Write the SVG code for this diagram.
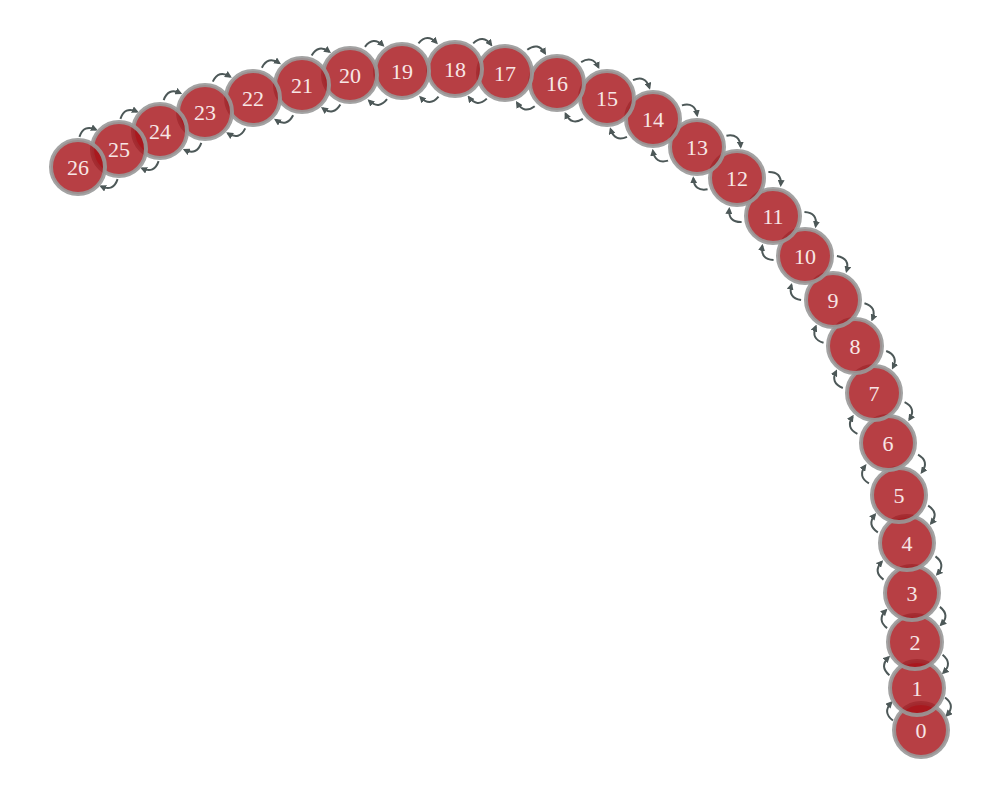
<svg xmlns="http://www.w3.org/2000/svg" width="1000" height="800" viewBox="0 0 1000 800">
<style>
.node circle{fill:#a50f15;fill-opacity:0.8;stroke:#999;stroke-opacity:0.9;stroke-width:4}
.node text{font-family:"Liberation Serif","Times New Roman",serif;font-size:22px;fill:#f7e6e6;text-anchor:middle}
.edge{fill:none;stroke:#4d5858;stroke-width:2;marker-end:url(#ah)}
</style>
<defs>
<marker id="ah" viewBox="0 0 10 10" refX="7" refY="5" markerWidth="7" markerHeight="7" markerUnits="userSpaceOnUse" orient="auto"><path d="M0,0 L10,5 L0,10 z" fill="#4d5858"/></marker>
</defs>
<rect width="1000" height="800" fill="#fff"/>
<g id="connectors">
<path class="edge" d="M-9,-27 Q0,-37 9,-27" transform="translate(919,709) rotate(-95.4)"/>
<path class="edge" d="M-9,-27 Q0,-37 9,-27" transform="translate(919,709) rotate(84.6)"/>
<path class="edge" d="M-9,-27 Q0,-37 9,-27" transform="translate(916,665) rotate(-92.5)"/>
<path class="edge" d="M-9,-27 Q0,-37 9,-27" transform="translate(916,665) rotate(87.5)"/>
<path class="edge" d="M-9,-27 Q0,-37 9,-27" transform="translate(913.5,617.5) rotate(-93.5)"/>
<path class="edge" d="M-9,-27 Q0,-37 9,-27" transform="translate(913.5,617.5) rotate(86.5)"/>
<path class="edge" d="M-9,-27 Q0,-37 9,-27" transform="translate(909.5,568) rotate(-95.7)"/>
<path class="edge" d="M-9,-27 Q0,-37 9,-27" transform="translate(909.5,568) rotate(84.3)"/>
<path class="edge" d="M-9,-27 Q0,-37 9,-27" transform="translate(903,519) rotate(-99.5)"/>
<path class="edge" d="M-9,-27 Q0,-37 9,-27" transform="translate(903,519) rotate(80.5)"/>
<path class="edge" d="M-9,-27 Q0,-37 9,-27" transform="translate(893.5,469) rotate(-101.9)"/>
<path class="edge" d="M-9,-27 Q0,-37 9,-27" transform="translate(893.5,469) rotate(78.1)"/>
<path class="edge" d="M-9,-27 Q0,-37 9,-27" transform="translate(881,418) rotate(-105.6)"/>
<path class="edge" d="M-9,-27 Q0,-37 9,-27" transform="translate(881,418) rotate(74.4)"/>
<path class="edge" d="M-9,-27 Q0,-37 9,-27" transform="translate(864.5,369.5) rotate(-112)"/>
<path class="edge" d="M-9,-27 Q0,-37 9,-27" transform="translate(864.5,369.5) rotate(68)"/>
<path class="edge" d="M-9,-27 Q0,-37 9,-27" transform="translate(844,323) rotate(-115.6)"/>
<path class="edge" d="M-9,-27 Q0,-37 9,-27" transform="translate(844,323) rotate(64.4)"/>
<path class="edge" d="M-9,-27 Q0,-37 9,-27" transform="translate(819,278) rotate(-122.5)"/>
<path class="edge" d="M-9,-27 Q0,-37 9,-27" transform="translate(819,278) rotate(57.5)"/>
<path class="edge" d="M-9,-27 Q0,-37 9,-27" transform="translate(789,236) rotate(-128.7)"/>
<path class="edge" d="M-9,-27 Q0,-37 9,-27" transform="translate(789,236) rotate(51.3)"/>
<path class="edge" d="M-9,-27 Q0,-37 9,-27" transform="translate(755,197) rotate(-133.5)"/>
<path class="edge" d="M-9,-27 Q0,-37 9,-27" transform="translate(755,197) rotate(46.5)"/>
<path class="edge" d="M-9,-27 Q0,-37 9,-27" transform="translate(717,162.5) rotate(-142.2)"/>
<path class="edge" d="M-9,-27 Q0,-37 9,-27" transform="translate(717,162.5) rotate(37.8)"/>
<path class="edge" d="M-9,-27 Q0,-37 9,-27" transform="translate(675,133) rotate(-147.5)"/>
<path class="edge" d="M-9,-27 Q0,-37 9,-27" transform="translate(675,133) rotate(32.5)"/>
<path class="edge" d="M-9,-27 Q0,-37 9,-27" transform="translate(630,108.5) rotate(-155.5)"/>
<path class="edge" d="M-9,-27 Q0,-37 9,-27" transform="translate(630,108.5) rotate(24.5)"/>
<path class="edge" d="M-9,-27 Q0,-37 9,-27" transform="translate(582,90.5) rotate(-163.3)"/>
<path class="edge" d="M-9,-27 Q0,-37 9,-27" transform="translate(582,90.5) rotate(16.7)"/>
<path class="edge" d="M-9,-27 Q0,-37 9,-27" transform="translate(531,78) rotate(-169.1)"/>
<path class="edge" d="M-9,-27 Q0,-37 9,-27" transform="translate(531,78) rotate(10.9)"/>
<path class="edge" d="M-9,-27 Q0,-37 9,-27" transform="translate(480,71) rotate(-175.4)"/>
<path class="edge" d="M-9,-27 Q0,-37 9,-27" transform="translate(480,71) rotate(4.6)"/>
<path class="edge" d="M-9,-27 Q0,-37 9,-27" transform="translate(428.5,70) rotate(177.8)"/>
<path class="edge" d="M-9,-27 Q0,-37 9,-27" transform="translate(428.5,70) rotate(-2.2)"/>
<path class="edge" d="M-9,-27 Q0,-37 9,-27" transform="translate(376,73) rotate(175.6)"/>
<path class="edge" d="M-9,-27 Q0,-37 9,-27" transform="translate(376,73) rotate(-4.4)"/>
<path class="edge" d="M-9,-27 Q0,-37 9,-27" transform="translate(326,80) rotate(168.2)"/>
<path class="edge" d="M-9,-27 Q0,-37 9,-27" transform="translate(326,80) rotate(-11.8)"/>
<path class="edge" d="M-9,-27 Q0,-37 9,-27" transform="translate(277.5,91.5) rotate(165.1)"/>
<path class="edge" d="M-9,-27 Q0,-37 9,-27" transform="translate(277.5,91.5) rotate(-14.9)"/>
<path class="edge" d="M-9,-27 Q0,-37 9,-27" transform="translate(229,105) rotate(163.7)"/>
<path class="edge" d="M-9,-27 Q0,-37 9,-27" transform="translate(229,105) rotate(-16.3)"/>
<path class="edge" d="M-9,-27 Q0,-37 9,-27" transform="translate(182.5,121.5) rotate(157.1)"/>
<path class="edge" d="M-9,-27 Q0,-37 9,-27" transform="translate(182.5,121.5) rotate(-22.9)"/>
<path class="edge" d="M-9,-27 Q0,-37 9,-27" transform="translate(139.5,140) rotate(156.3)"/>
<path class="edge" d="M-9,-27 Q0,-37 9,-27" transform="translate(139.5,140) rotate(-23.7)"/>
<path class="edge" d="M-9,-27 Q0,-37 9,-27" transform="translate(98.5,158) rotate(156.3)"/>
<path class="edge" d="M-9,-27 Q0,-37 9,-27" transform="translate(98.5,158) rotate(-23.7)"/>
</g>
<g id="nodes">
<g id="node-0" class="node"><circle cx="921" cy="730" r="27"/><text x="921" y="738">0</text></g>
<g id="node-1" class="node"><circle cx="917" cy="688" r="27"/><text x="917" y="696">1</text></g>
<g id="node-2" class="node"><circle cx="915" cy="642" r="27"/><text x="915" y="650">2</text></g>
<g id="node-3" class="node"><circle cx="912" cy="593" r="27"/><text x="912" y="601">3</text></g>
<g id="node-4" class="node"><circle cx="907" cy="543" r="27"/><text x="907" y="551">4</text></g>
<g id="node-5" class="node"><circle cx="899" cy="495" r="27"/><text x="899" y="503">5</text></g>
<g id="node-6" class="node"><circle cx="888" cy="443" r="27"/><text x="888" y="451">6</text></g>
<g id="node-7" class="node"><circle cx="874" cy="393" r="27"/><text x="874" y="401">7</text></g>
<g id="node-8" class="node"><circle cx="855" cy="346" r="27"/><text x="855" y="354">8</text></g>
<g id="node-9" class="node"><circle cx="833" cy="300" r="27"/><text x="833" y="308">9</text></g>
<g id="node-10" class="node"><circle cx="805" cy="256" r="27"/><text x="805" y="264">10</text></g>
<g id="node-11" class="node"><circle cx="773" cy="216" r="27"/><text x="773" y="224">11</text></g>
<g id="node-12" class="node"><circle cx="737" cy="178" r="27"/><text x="737" y="186">12</text></g>
<g id="node-13" class="node"><circle cx="697" cy="147" r="27"/><text x="697" y="155">13</text></g>
<g id="node-14" class="node"><circle cx="653" cy="119" r="27"/><text x="653" y="127">14</text></g>
<g id="node-15" class="node"><circle cx="607" cy="98" r="27"/><text x="607" y="106">15</text></g>
<g id="node-16" class="node"><circle cx="557" cy="83" r="27"/><text x="557" y="91">16</text></g>
<g id="node-17" class="node"><circle cx="505" cy="73" r="27"/><text x="505" y="81">17</text></g>
<g id="node-18" class="node"><circle cx="455" cy="69" r="27"/><text x="455" y="77">18</text></g>
<g id="node-19" class="node"><circle cx="402" cy="71" r="27"/><text x="402" y="79">19</text></g>
<g id="node-20" class="node"><circle cx="350" cy="75" r="27"/><text x="350" y="83">20</text></g>
<g id="node-21" class="node"><circle cx="302" cy="85" r="27"/><text x="302" y="93">21</text></g>
<g id="node-22" class="node"><circle cx="253" cy="98" r="27"/><text x="253" y="106">22</text></g>
<g id="node-23" class="node"><circle cx="205" cy="112" r="27"/><text x="205" y="120">23</text></g>
<g id="node-24" class="node"><circle cx="160" cy="131" r="27"/><text x="160" y="139">24</text></g>
<g id="node-25" class="node"><circle cx="119" cy="149" r="27"/><text x="119" y="157">25</text></g>
<g id="node-26" class="node"><circle cx="78" cy="167" r="27"/><text x="78" y="175">26</text></g>
</g>
</svg>
